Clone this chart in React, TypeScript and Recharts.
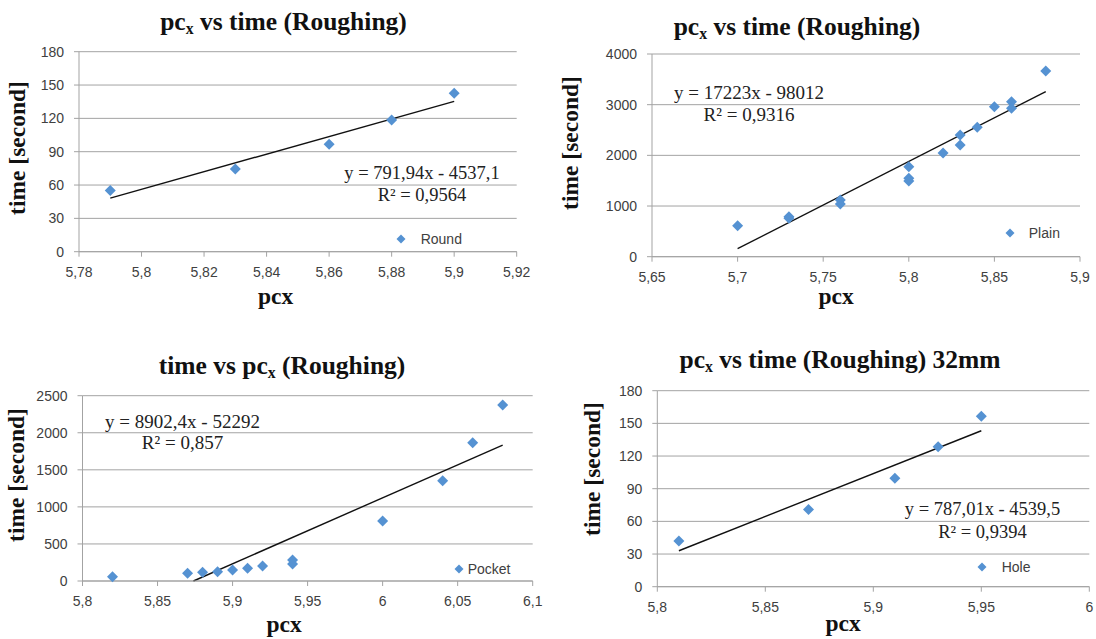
import React from 'react';
import { ScatterChart, Scatter, XAxis, YAxis, CartesianGrid, ReferenceLine } from 'recharts';

// ---------- Data ----------
const roundName = 'Round';
const roundX = [5.79, 5.83, 5.86, 5.88, 5.9];
const roundY = [55, 74.5, 96.7, 118.5, 142.6];
const roundXTicks = [5.78, 5.8, 5.82, 5.84, 5.86, 5.88, 5.9, 5.92];
const roundYTicks = [0, 30, 60, 90, 120, 150, 180];
const roundTrend = [791.94, -4537.1];
const roundTrendRange = [5.79, 5.9];
const roundEq = ['y = 791,94x - 4537,1', 'R² = 0,9564'];

const plainName = 'Plain';
const plainX = [5.7, 5.73, 5.73, 5.76, 5.76, 5.8, 5.8, 5.8, 5.82, 5.83, 5.83, 5.84, 5.85, 5.86, 5.86, 5.88];
const plainY = [610, 790, 760, 1120, 1040, 1776, 1547, 1494, 2045, 2400, 2205, 2553, 2960, 3059, 2930, 3665];
const plainXTicks = [5.65, 5.7, 5.75, 5.8, 5.85, 5.9];
const plainYTicks = [0, 1000, 2000, 3000, 4000];
const plainTrend = [17223, -98012];
const plainTrendRange = [5.7, 5.88];
const plainEq = ['y = 17223x - 98012', 'R² = 0,9316'];

const pocketName = 'Pocket';
const pocketX = [5.82, 5.87, 5.88, 5.89, 5.9, 5.91, 5.92, 5.94, 5.94, 6.0, 6.04, 6.06, 6.08];
const pocketY = [58, 104, 117, 126, 148, 171, 202, 283, 229, 809, 1353, 1866, 2374];
const pocketXTicks = [5.8, 5.85, 5.9, 5.95, 6.0, 6.05, 6.1];
const pocketYTicks = [0, 500, 1000, 1500, 2000, 2500];
const pocketTrend = [8902.4, -52292];
const pocketTrendRange = [5.82, 6.08];
const pocketEq = ['y = 8902,4x - 52292', 'R² = 0,857'];

const holeName = 'Hole';
const holeX = [5.81, 5.87, 5.91, 5.93, 5.95];
const holeY = [42, 71, 99.5, 128.6, 156.6];
const holeXTicks = [5.8, 5.85, 5.9, 5.95, 6.0];
const holeYTicks = [0, 30, 60, 90, 120, 150, 180];
const holeTrend = [787.01, -4539.5];
const holeTrendRange = [5.81, 5.95];
const holeEq = ['y = 787,01x - 4539,5', 'R² = 0,9394'];

// ---------- Styles ----------
const BLUE = '#5592d2';
const GRID = '#a3a3a3';
const TICK = '#404040';
const SANS = '"Liberation Sans", Arial, sans-serif';
const SERIF = '"Liberation Serif", "Times New Roman", serif';
const YW = 50;
const XH = 30;

type Cfg = {
  name: string; xs: number[]; ys: number[]; xTicks: number[]; yTicks: number[];
  trend: number[]; trendRange: number[]; eq: string[];
  box: { left: number; top: number; w: number; h: number };
  plot: { left: number; top: number; right: number; bottom: number };
  title: string[]; titlePos: number[]; timePos: number[]; pcxPos: number[];
  eqPos: number[]; eqSize: number; legend: number[];
};

const panels: Cfg[] = [
  {
    name: roundName, xs: roundX, ys: roundY, xTicks: roundXTicks, yTicks: roundYTicks,
    trend: roundTrend, trendRange: roundTrendRange, eq: roundEq,
    box: { left: 0, top: 0, w: 548, h: 320 },
    plot: { left: 79, top: 51.7, right: 516.7, bottom: 251.7 },
    title: ['pc', 'x', ' vs time (Roughing)'], titlePos: [283.5, 21.7],
    timePos: [18, 148], pcxPos: [275.5, 297],
    eqPos: [422, 174, 195.7], eqSize: 18.5, legend: [401, 239.3, 14.7],
  },
  {
    name: plainName, xs: plainX, ys: plainY, xTicks: plainXTicks, yTicks: plainYTicks,
    trend: plainTrend, trendRange: plainTrendRange, eq: plainEq,
    box: { left: 548, top: 0, w: 548, h: 320 },
    plot: { left: 652, top: 54, right: 1080, bottom: 256.7 },
    title: ['pc', 'x', ' vs time (Roughing)'], titlePos: [797, 26.7],
    timePos: [571, 143], pcxPos: [836, 297],
    eqPos: [749, 93.3, 115], eqSize: 19, legend: [1009.6, 232.7, 14.2],
  },
  {
    name: pocketName, xs: pocketX, ys: pocketY, xTicks: pocketXTicks, yTicks: pocketYTicks,
    trend: pocketTrend, trendRange: pocketTrendRange, eq: pocketEq,
    box: { left: 0, top: 320, w: 548, h: 319 },
    plot: { left: 82.5, top: 395.7, right: 532.7, bottom: 581 },
    title: ['time vs pc', 'x', ' (Roughing)'], titlePos: [282, 366],
    timePos: [16.7, 475], pcxPos: [284, 625],
    eqPos: [182.5, 421.7, 443.3], eqSize: 19, legend: [459.3, 569.3, 3.4],
  },
  {
    name: holeName, xs: holeX, ys: holeY, xTicks: holeXTicks, yTicks: holeYTicks,
    trend: holeTrend, trendRange: holeTrendRange, eq: holeEq,
    box: { left: 548, top: 320, w: 548, h: 319 },
    plot: { left: 657.3, top: 390.7, right: 1089.3, bottom: 586.7 },
    title: ['pc', 'x', ' vs time (Roughing) 32mm'], titlePos: [840, 360],
    timePos: [593, 469], pcxPos: [843, 624],
    eqPos: [982.5, 510, 532.7], eqSize: 18.5, legend: [982.3, 567.3, 14.4],
  },
];

const fmt = (v: number) => String(v).replace('.', ',');

const Diamond = (props: any) => {
  const { cx, cy } = props;
  if (cx == null || cy == null) return null;
  const r = 5.5;
  return <path d={`M${cx},${cy - r}L${cx + r},${cy}L${cx},${cy + r}L${cx - r},${cy}Z`} fill={BLUE} />;
};

function Panel({ cfg }: { cfg: Cfg }) {
  const data = cfg.xs.map((x, i) => ({ x, y: cfg.ys[i] }));
  const [a, b] = cfg.trend;
  const x0 = Math.max(cfg.trendRange[0], -b / a);
  const x1 = cfg.trendRange[1];
  const { box, plot } = cfg;
  const margin = {
    left: plot.left - box.left - YW,
    top: plot.top - box.top,
    right: box.left + box.w - plot.right,
    bottom: box.top + box.h - plot.bottom - XH,
  };
  const tickStyle = { fontSize: 14, fill: TICK, fontFamily: SANS };
  return (
    <div style={{ position: 'absolute', left: box.left, top: box.top, width: box.w, height: box.h }}>
      <ScatterChart width={box.w} height={box.h} margin={margin}>
        <CartesianGrid vertical={false} stroke={GRID} strokeWidth={1} />
        <XAxis
          type="number" dataKey="x" domain={[cfg.xTicks[0], cfg.xTicks[cfg.xTicks.length - 1]]}
          ticks={cfg.xTicks} interval={0} tickFormatter={fmt} height={XH}
          axisLine={{ stroke: GRID }} tickLine={{ stroke: GRID }} tickSize={5} tickMargin={10}
          tick={tickStyle}
        />
        <YAxis
          type="number" dataKey="y" domain={[cfg.yTicks[0], cfg.yTicks[cfg.yTicks.length - 1]]}
          ticks={cfg.yTicks} interval={0} width={YW}
          axisLine={{ stroke: GRID }} tickLine={{ stroke: GRID }} tickSize={5} tickMargin={10}
          tick={tickStyle}
        />
        <ReferenceLine
          segment={[{ x: x0, y: a * x0 + b }, { x: x1, y: a * x1 + b }]}
          stroke="#111" strokeWidth={1.4} ifOverflow="visible"
        />
        <Scatter name={cfg.name} data={data} fill={BLUE} shape={Diamond} isAnimationActive={false} />
      </ScatterChart>
    </div>
  );
}

const center: React.CSSProperties = { position: 'absolute', transform: 'translate(-50%, -50%)', whiteSpace: 'nowrap' };

function Overlay({ cfg }: { cfg: Cfg }) {
  return (
    <>
      <div style={{ ...center, left: cfg.titlePos[0], top: cfg.titlePos[1], fontFamily: SERIF, fontWeight: 'bold', fontSize: 25.5, color: '#111', lineHeight: 1.15 }}>
        {cfg.title[0]}
        <span style={{ fontSize: '0.62em', position: 'relative', top: '0.28em' }}>{cfg.title[1]}</span>
        {cfg.title[2]}
      </div>
      <div style={{ ...center, left: cfg.timePos[0], top: cfg.timePos[1], transform: 'translate(-50%, -50%) rotate(-90deg)', fontFamily: SERIF, fontWeight: 'bold', fontSize: 23.5, color: '#111', lineHeight: 1.15 }}>
        time [second]
      </div>
      <div style={{ ...center, left: cfg.pcxPos[0], top: cfg.pcxPos[1], fontFamily: SERIF, fontWeight: 'bold', fontSize: 23.5, color: '#111', lineHeight: 1.15 }}>
        pcx
      </div>
      <div style={{ ...center, left: cfg.eqPos[0], top: cfg.eqPos[1], fontFamily: SERIF, fontSize: cfg.eqSize, color: '#222', lineHeight: 1.15 }}>
        {cfg.eq[0]}
      </div>
      <div style={{ ...center, left: cfg.eqPos[0], top: cfg.eqPos[2], fontFamily: SERIF, fontSize: cfg.eqSize, color: '#222', lineHeight: 1.15 }}>
        {cfg.eq[1]}
      </div>
      <div style={{ position: 'absolute', left: cfg.legend[0] - 5, top: cfg.legend[1] - 10, height: 20, display: 'flex', alignItems: 'center', fontFamily: SANS, fontSize: 14, color: TICK, whiteSpace: 'nowrap' }}>
        <svg width={10} height={10} style={{ display: 'block' }}>
          <path d="M5,0.5L9.5,5L5,9.5L0.5,5Z" fill={BLUE} />
        </svg>
        <span style={{ marginLeft: cfg.legend[2] }}>{cfg.name}</span>
      </div>
    </>
  );
}

export default function App() {
  return (
    <div style={{ position: 'absolute', left: 0, top: 0, width: 1096, height: 639, background: '#fff', overflow: 'hidden' }}>
      {panels.map((p) => <Panel key={p.name} cfg={p} />)}
      {panels.map((p) => <Overlay key={'o' + p.name} cfg={p} />)}
    </div>
  );
}
